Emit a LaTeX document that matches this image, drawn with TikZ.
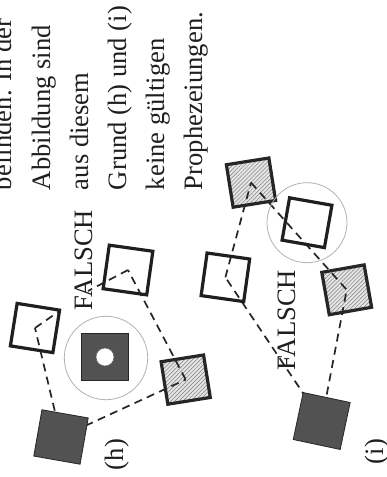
\documentclass[tikz,border=0pt]{standalone}
\usepackage{fontspec}
\setmainfont{Liberation Serif}
\usetikzlibrary{patterns.meta}
\pgfdeclarelayer{hatch}
\pgfdeclarelayer{links}
\pgfsetlayers{hatch,links,main}

\begin{document}
\begin{tikzpicture}[x=1pt,y=-1pt,
  every node/.style={inner sep=0pt, outer sep=0pt},
  darksq/.style={draw=black!85, line width=0.8pt, fill=black!68, minimum size=47pt},
  opensq/.style={draw=black!88, line width=3.2pt, minimum size=43pt},
  hatchsq/.style={draw=black!85, line width=3.2pt, minimum size=43pt},
  hatchbg/.style={fill=black!10},
  hatchln/.style={pattern={Lines[angle=45,distance=2.8pt,line width=0.5pt]}, pattern color=black!50},
  link/.style={draw=black!85, line width=1.7pt, dash pattern=on 8pt off 5.5pt},
  halo/.style={draw=black!30, line width=0.8pt, circle},
  txt/.style={rotate=90, anchor=base west, font=\fontsize{26.6}{30}\selectfont, text=black!88},
]
\useasboundingbox (0,0) rectangle (387,477);
\begin{pgfonlayer}{hatch}
  \fill[white] (0,0) rectangle (387,477);
\end{pgfonlayer}
\clip (0,0) rectangle (387,477);

% running text, set sideways
\node[txt] (l1) at (12,190)  {befinden. In der};
\node[txt] (l2) at (50,190)  {Abbildung sind};
\node[txt] (l3) at (88,190)  {aus diesem};
\node[txt] (l4) at (126,190) {Grund (h) und (i)};
\node[txt] (l5) at (164,190) {keine gültigen};
\node[txt] (l6) at (202,190) {Prophezeiungen.};

% ---- panel (h)
\node[halo, minimum size=83.4pt] (hring) at (106,358) {};
\node[darksq, minimum size=46.7pt] (hcore) at (105,357) {};
\node[circle, fill=white, draw=black!60, line width=0.6pt, minimum size=18pt] (hhole) at (hcore) {};
\node[darksq, rotate=-10] (h1) at (61,437) {};
\node[opensq, rotate=-9]  (h2) at (35,328) {};
\node[hatchsq, rotate=9]  (h3) at (185.7,379.6) {};
\node[opensq, rotate=-8, minimum size=44pt] (h4) at (128,270) {};
\coordinate (h2tip) at (58,312);
\coordinate (h4tip) at (88,291);
\node[txt] (hfalse) at (92,310) {FALSCH};
\node[txt] (hlabel) at (123,470) {(h)};

% ---- panel (i)
\node[darksq, rotate=-12, minimum size=48pt] (i1) at (321.7,421) {};
\node[hatchsq, rotate=10] (i2) at (346.7,289.8) {};
\node[opensq, rotate=-8]  (i3) at (225.4,277.3) {};
\node[opensq, rotate=-10] (i4) at (307,222.7) {};
\node[hatchsq, rotate=9]  (i5) at (251,182.6) {};
\node[halo, minimum size=80pt] (iring) at (i4) {};
\node[txt] (ifalse) at (295,370) {FALSCH};
\node[txt] (ilabel) at (383,464) {(i)};

% hatched faces
\begin{pgfonlayer}{hatch}
  \foreach \n in {h3,i2,i5} {
    \fill[hatchbg] (\n.north west) -- (\n.north east) -- (\n.south east) -- (\n.south west) -- cycle;
    \fill[hatchln] (\n.north west) -- (\n.north east) -- (\n.south east) -- (\n.south west) -- cycle;
  }
\end{pgfonlayer}

% dashed links between centres
\begin{pgfonlayer}{links}
  \draw[link] (h1.center) -- (h2.center);
  \draw[link] (h1.center) -- (h3.center);
  \draw[link] (h3.center) -- (h4.center);
  \draw[link] (h2.center) -- (h2tip);
  \draw[link] (h4.center) -- (h4tip);
  \draw[link] (i1.center) -- (i3.center);
  \draw[link] (i1.center) -- (i2.center);
  \draw[link] (i3.center) -- (i5.center);
  \draw[link] (i5.center) -- (i2.center);
\end{pgfonlayer}
\end{tikzpicture}
\end{document}
